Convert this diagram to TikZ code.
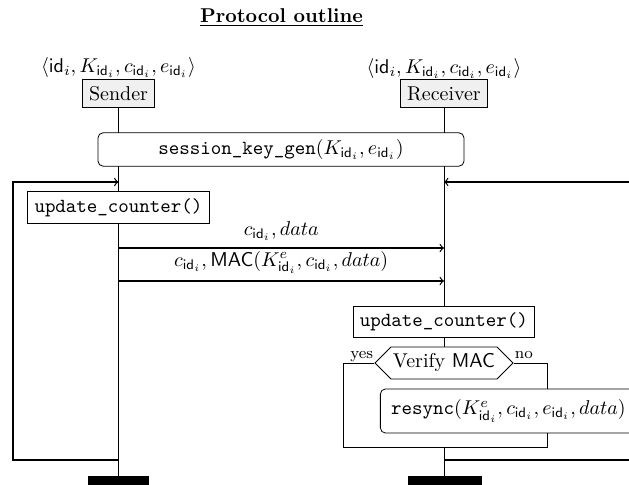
\documentclass[tikz,border=0pt]{standalone}
\usetikzlibrary{shapes.symbols,backgrounds}
\begin{document}
\begin{tikzpicture}[x=0.5pt,y=-0.5pt,
  actor/.style={draw, fill=gray!12, inner sep=3.3pt},
  tuple/.style={anchor=south, inner sep=0.5pt},
  proc/.style={draw, fill=white, font=\ttfamily},
  rproc/.style={draw, fill=white, rounded corners=2.5pt},
  bar/.style={fill=black, inner sep=0pt, minimum height=5pt},
  msg/.style={->, semithick},
  loopline/.style={->, semithick},
  lifeline/.style={thin},
  decide/.style={draw, fill=white, signal, signal to=west and east, inner xsep=1pt, minimum height=16pt},
  lbl/.style={font=\footnotesize, inner sep=0.5pt}]
\useasboundingbox (0,0) rectangle (629,485);

\node (title) at (281.5,18) {\underline{\textbf{Protocol outline}}};

\node[actor] (S) at (118.5,93.5) {Sender};
\node[actor] (R) at (444,93.5) {Receiver};
\node[tuple] (tS) at (S.north) {$\langle \mathsf{id}_i, K_{\mathsf{id}_i}, c_{\mathsf{id}_i}, e_{\mathsf{id}_i}\rangle$};
\node[tuple] (tR) at (R.north) {$\langle \mathsf{id}_i, K_{\mathsf{id}_i}, c_{\mathsf{id}_i}, e_{\mathsf{id}_i}\rangle$};

\node[rproc, minimum width=183pt, minimum height=16.5pt] (sk) at (281,149.5)
  {\texttt{session\_key\_gen}$(K_{\mathsf{id}_i}, e_{\mathsf{id}_i})$};

\node[proc] (uS) at (118.5,207.5) {update\_counter()};
\node[proc] (uR) at (444,322) {update\_counter()};
\node[decide] (V) at (444,363) {Verify $\mathsf{MAC}$};
\node[rproc, anchor=west, minimum width=128pt, minimum height=22pt, inner xsep=5pt] (rs) at (380,411)
  {\texttt{resync}$(K^e_{\mathsf{id}_i}, c_{\mathsf{id}_i}, e_{\mathsf{id}_i}, data)$};

\node[lbl, anchor=base east] (yes) at ([yshift=2pt]V.west) {yes};
\node[lbl, anchor=base west] (no) at ([yshift=2pt]V.east) {no};

\node[bar, minimum width=30.5pt] (bS) at (118.5,481) {};
\node[bar, minimum width=37pt] (bR) at (445,481) {};

\begin{scope}[on background layer]
  \draw[lifeline] (S.south) -- (S |- bS.north);
  \draw[lifeline] (R.south) -- (V.north);
\end{scope}

\coordinate (sA) at (118.5,182);
\coordinate (rA) at (444,182);
\coordinate (sB) at (118.5,460);
\coordinate (rB) at (444,460);
\coordinate (L1) at (13,460);
\coordinate (L2) at (13,182);
\coordinate (R1) at (660,460);
\coordinate (R2) at (660,182);
\coordinate (m1s) at (118.5,248);
\coordinate (m1r) at (444,248);
\coordinate (m2s) at (118.5,281);
\coordinate (m2r) at (444,281);
\coordinate (Y1) at (343,363);
\coordinate (Y2) at (343,447);
\coordinate (N1) at (547,363);
\coordinate (N2) at (547,447);
\coordinate (J) at (444,447);

\draw[loopline] (sB) -- (L1) -- (L2) -- (sA);
\draw[loopline] (rB) -- (R1) -- (R2) -- (rA);

\draw[msg] (m1s) -- node[above] {$c_{\mathsf{id}_i}, data$} (m1r);
\draw[msg] (m2s) -- node[above] {$c_{\mathsf{id}_i}, \mathsf{MAC}(K^e_{\mathsf{id}_i}, c_{\mathsf{id}_i}, data)$} (m2r);

\draw (V.west) -- (Y1) -- (Y2) -- (J);
\draw (V.east) -- (N1) -- (N1 |- rs.north);
\draw (N1 |- rs.south) -- (N2) -- (J);
\draw[lifeline] (J) -- (J |- bR.north);
\end{tikzpicture}
\end{document}
